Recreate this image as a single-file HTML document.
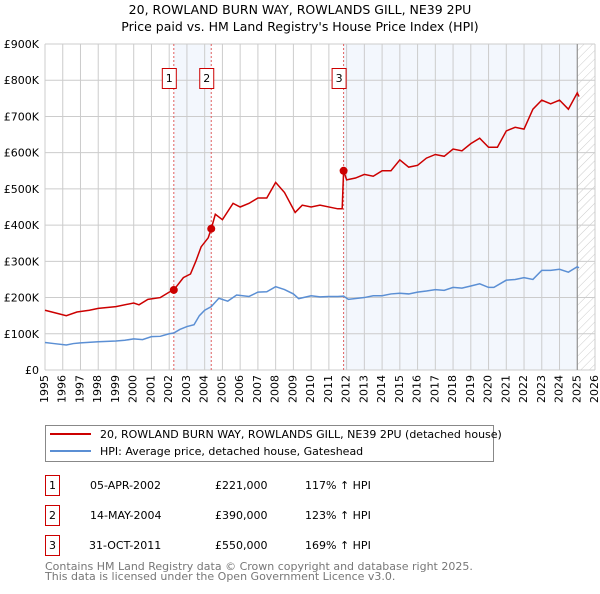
<!DOCTYPE html>
<html><head><meta charset="utf-8"><style>
body{margin:0;background:#fff;font-family:"DejaVu Sans","Liberation Sans",sans-serif;}
svg text{font-family:"DejaVu Sans","Liberation Sans",sans-serif;}
</style></head><body>
<svg id="c" width="600" height="590" xmlns="http://www.w3.org/2000/svg">
<defs><pattern id="hatch" width="6" height="6" patternUnits="userSpaceOnUse" patternTransform="rotate(45)"><line x1="0" y1="0" x2="0" y2="6" stroke="#ccc" stroke-width="1"/></pattern></defs>
<text x="300" y="14" text-anchor="middle" font-size="12.5">20, ROWLAND BURN WAY, ROWLANDS GILL, NE39 2PU</text>
<text x="300" y="31" text-anchor="middle" font-size="12.5">Price paid vs. HM Land Registry's House Price Index (HPI)</text>
<g id="plot"></g>
<g>
<rect x="45.5" y="425.5" width="448" height="36" fill="#fff" stroke="#888"/>
<line x1="50" y1="434" x2="91" y2="434" stroke="#cc0000" stroke-width="2"/>
<text x="100" y="438" font-size="11">20, ROWLAND BURN WAY, ROWLANDS GILL, NE39 2PU (detached house)</text>
<line x1="50" y1="451" x2="91" y2="451" stroke="#5b8fd4" stroke-width="2"/>
<text x="100" y="455" font-size="11">HPI: Average price, detached house, Gateshead</text>
</g>
<g font-size="11">
<rect x="45.5" y="475.5" width="14" height="20" fill="none" stroke="#cc0000"/><text x="52.5" y="489" text-anchor="middle">1</text>
<text x="90" y="489">05-APR-2002</text><text x="215" y="489">£221,000</text><text x="305" y="489">117% ↑ HPI</text>
<rect x="45.5" y="505.5" width="14" height="20" fill="none" stroke="#cc0000"/><text x="52.5" y="519" text-anchor="middle">2</text>
<text x="90" y="519">14-MAY-2004</text><text x="215" y="519">£390,000</text><text x="305" y="519">123% ↑ HPI</text>
<rect x="45.5" y="535.5" width="14" height="20" fill="none" stroke="#cc0000"/><text x="52.5" y="549" text-anchor="middle">3</text>
<text x="89" y="549">31-OCT-2011</text><text x="215" y="549">£550,000</text><text x="305" y="549">169% ↑ HPI</text>
</g>
<text x="45" y="570" font-size="11" fill="#777">Contains HM Land Registry data © Crown copyright and database right 2025.</text>
<text x="45" y="580" font-size="11" fill="#777">This data is licensed under the Open Government Licence v3.0.</text>
</svg>
<script>
const yTicks=[0,100,200,300,400,500,600,700,800,900];
const yTickLabels=["£0","£100K","£200K","£300K","£400K","£500K","£600K","£700K","£800K","£900K"];
const xYears=[1995,1996,1997,1998,1999,2000,2001,2002,2003,2004,2005,2006,2007,2008,2009,2010,2011,2012,2013,2014,2015,2016,2017,2018,2019,2020,2021,2022,2023,2024,2025,2026];
const hpiDates=[1995,1995.5,1996.2,1996.6,1997,1998,1999,1999.5,2000,2000.5,2001,2001.5,2002,2002.26,2002.6,2003,2003.4,2003.7,2004,2004.37,2004.8,2005.3,2005.8,2006.5,2007,2007.5,2008,2008.5,2009,2009.3,2010,2010.5,2011,2011.5,2011.83,2012.1,2013,2013.5,2014,2014.5,2015,2015.5,2016,2016.5,2017,2017.5,2018,2018.5,2019,2019.5,2020,2020.3,2021,2021.5,2022,2022.5,2023,2023.5,2024,2024.5,2025,2025.1];
const hpiValues=[76,73,69,73,75,78,80,82,86,84,92,93,100,102,112,120,125,150,165,175,198,190,207,203,215,216,230,222,210,197,205,202,203,203,204,195,200,205,205,210,212,210,215,218,222,220,228,226,232,238,228,228,248,250,255,250,275,275,278,270,285,282];
const redDates=[1995,1995.8,1996.2,1996.8,1997.5,1998,1999,2000,2000.3,2000.8,2001.5,2002,2002.26,2002.8,2003.2,2003.5,2003.8,2004.2,2004.37,2004.6,2005,2005.6,2006,2006.5,2007,2007.5,2008,2008.5,2009.1,2009.5,2010,2010.5,2011.5,2011.75,2011.83,2012,2012.5,2013,2013.5,2014,2014.5,2015,2015.5,2016,2016.5,2017,2017.5,2018,2018.5,2019,2019.5,2020,2020.5,2021,2021.5,2022,2022.5,2023,2023.5,2024,2024.5,2025,2025.1];
const redValues=[165,155,150,160,165,170,175,185,180,195,200,215,221,255,265,300,340,365,390,430,415,460,450,460,475,475,518,490,435,455,450,455,445,445,550,525,530,540,535,550,550,580,560,565,585,595,590,610,605,625,640,615,615,660,670,665,720,745,735,745,720,765,755];
const saleDates=[2002.26,2004.37,2011.83];
const saleValues=[221,390,550];
const saleLabels=["1","2","3"];
const L=45,R=595,T=44,B=370,X0=1995,X1=2026,YMAX=900;
const sx=v=>L+(v-X0)/(X1-X0)*(R-L);
const sy=v=>B-v/YMAX*(B-T);
const NS="http://www.w3.org/2000/svg";
const g=document.getElementById('plot');
function mk(t,a){const e=document.createElementNS(NS,t);for(const k in a)e.setAttribute(k,a[k]);g.appendChild(e);return e;}
let e;
e=mk('rect',{x:sx(saleDates[0]),y:T,width:sx(saleDates[1])-sx(saleDates[0]),height:B-T,fill:'#eef3fc',opacity:0.7});


e=mk('rect',{x:sx(saleDates[2]),y:T,width:sx(2025)-sx(saleDates[2]),height:B-T,fill:'#eef3fc',opacity:0.7});


e=mk('rect',{x:sx(2025),y:T,width:R-sx(2025),height:B-T,fill:'url(#hatch)'});


xYears.forEach(y=>{e=mk('line',{x1:sx(y),x2:sx(y),y1:T,y2:B,stroke:'#ccc','stroke-width':1});


e=mk('text',{x:sx(y),y:B+5,transform:`rotate(-90 ${sx(y)} ${B+5})`,'text-anchor':'end','dominant-baseline':'middle','font-size':11});e.textContent=y;

});
yTicks.forEach((v,i)=>{e=mk('line',{x1:L,x2:R,y1:sy(v),y2:sy(v),stroke:'#ccc','stroke-width':1});


e=mk('text',{x:L-6,y:sy(v)+4,'text-anchor':'end','font-size':11});e.textContent=yTickLabels[i];

});
e=mk('line',{x1:sx(2025),x2:sx(2025),y1:T,y2:B,stroke:'#888','stroke-width':1});


saleDates.forEach((d,i)=>{e=mk('line',{x1:sx(d),x2:sx(d),y1:T,y2:B,stroke:'#e06060','stroke-width':1,'stroke-dasharray':'2,2'});


e=mk('rect',{x:sx(d)-11.5,y:68.5,width:14,height:20,fill:'#fff',stroke:'#cc0000'});


e=mk('text',{x:sx(d)-4.5,y:82,'text-anchor':'middle','font-size':11});e.textContent=saleLabels[i];

});
e=mk('polyline',{points:hpiDates.map((d,i)=>sx(d)+','+sy(hpiValues[i])).join(' '),fill:'none',stroke:'#5b8fd4','stroke-width':1.5});


e=mk('polyline',{points:redDates.map((d,i)=>sx(d)+','+sy(redValues[i])).join(' '),fill:'none',stroke:'#cc0000','stroke-width':1.5});


saleDates.forEach((d,i)=>{e=mk('circle',{cx:sx(d),cy:sy(saleValues[i]),r:4,fill:'#cc0000'});

});
</script>
</body></html>
